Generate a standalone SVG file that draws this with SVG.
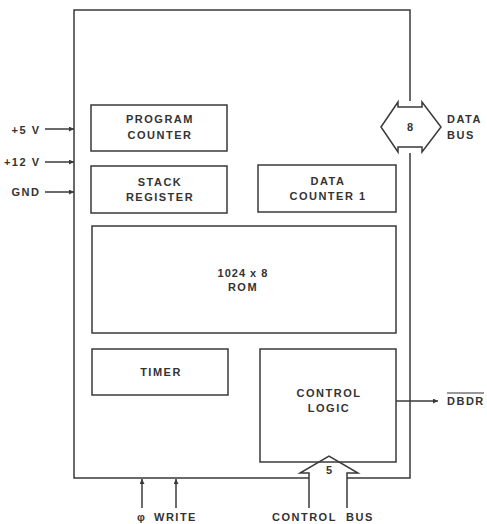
<svg xmlns="http://www.w3.org/2000/svg" width="487" height="524" viewBox="0 0 487 524">
<style>
.box{fill:none;stroke:#3a3a3a;stroke-width:1.5}
.ln{fill:none;stroke:#3a3a3a;stroke-width:1.5}
.t{font-family:"Liberation Sans",Arial,sans-serif;font-weight:bold;font-size:11px;letter-spacing:1.5px;fill:#333;text-anchor:middle}
.tl{font-family:"Liberation Sans",Arial,sans-serif;font-weight:bold;font-size:11px;letter-spacing:1.5px;fill:#333}
</style>
<defs>
<marker id="ah" viewBox="0 0 10 10" refX="10" refY="5" markerWidth="7" markerHeight="5" markerUnits="userSpaceOnUse" orient="auto">
<path d="M0,0 L10,5 L0,10 z" fill="#3a3a3a"/>
</marker>
</defs>
<rect width="487" height="524" fill="#fff"/>
<g id="chip">
<path class="ln" d="M410,101 L410,10 L74,10 L74,478 L309,478"/>
<path class="ln" d="M347,478 L410,478 L410,153"/>
</g>
<g id="program-counter">
<rect class="box" x="91" y="105" width="136" height="46"/>
<text class="t" x="160" y="123">PROGRAM</text>
<text class="t" x="160" y="139">COUNTER</text>
</g>
<g id="stack-register">
<rect class="box" x="91" y="166" width="136" height="47"/>
<text class="t" x="160" y="186">STACK</text>
<text class="t" x="160" y="201">REGISTER</text>
</g>
<g id="data-counter">
<rect class="box" x="258" y="165" width="138" height="47"/>
<text class="t" x="328" y="185">DATA</text>
<text class="t" x="328" y="200">COUNTER 1</text>
</g>
<g id="rom">
<rect class="box" x="92" y="226" width="304" height="107"/>
<text class="t" x="243" y="277" style="letter-spacing:1px">1024 x 8</text>
<text class="t" x="243" y="291">ROM</text>
</g>
<g id="timer">
<rect class="box" x="92" y="349" width="136" height="46"/>
<text class="t" x="161" y="376">TIMER</text>
</g>
<g id="control-logic">
<rect class="box" x="260" y="349" width="136" height="113"/>
<text class="t" x="329" y="397">CONTROL</text>
<text class="t" x="329" y="412">LOGIC</text>
</g>
<g id="connectors">
<line class="ln" x1="45" y1="129" x2="74" y2="129" marker-end="url(#ah)"/>
<line class="ln" x1="45" y1="162" x2="74" y2="162" marker-end="url(#ah)"/>
<line class="ln" x1="45" y1="192" x2="74" y2="192" marker-end="url(#ah)"/>
<line class="ln" x1="142" y1="508" x2="142" y2="479" marker-end="url(#ah)"/>
<line class="ln" x1="176" y1="508" x2="176" y2="479" marker-end="url(#ah)"/>
<line class="ln" x1="396" y1="401" x2="438" y2="401" marker-end="url(#ah)"/>
<path class="ln" d="M309,508 L309,473 L300,473 L329,456 L358,473 L347,473 L347,508"/>
<path class="ln" d="M381,127 L398,102 L398,107 L422,107 L422,102 L441,127 L422,152 L422,147 L398,147 L398,152 Z"/>
</g>
<g id="labels">
<text class="tl" x="40.5" y="134" text-anchor="end">+5 V</text>
<text class="tl" x="40.5" y="166" text-anchor="end">+12 V</text>
<text class="tl" x="40.5" y="196" text-anchor="end">GND</text>
<text class="t" x="410" y="131" style="letter-spacing:0">8</text>
<text class="tl" x="447" y="123">DATA</text>
<text class="tl" x="447" y="139">BUS</text>
<text class="t" x="329" y="474" style="letter-spacing:0">5</text>
<text class="tl" x="447" y="405">DBDR</text>
<line x1="447" y1="393" x2="484" y2="393" stroke="#333" stroke-width="1"/>
<text class="tl" x="137" y="521">φ</text>
<text class="tl" x="154" y="521">WRITE</text>
<text class="tl" x="272" y="521">CONTROL</text>
<text class="tl" x="346" y="521">BUS</text>
</g>
</svg>
